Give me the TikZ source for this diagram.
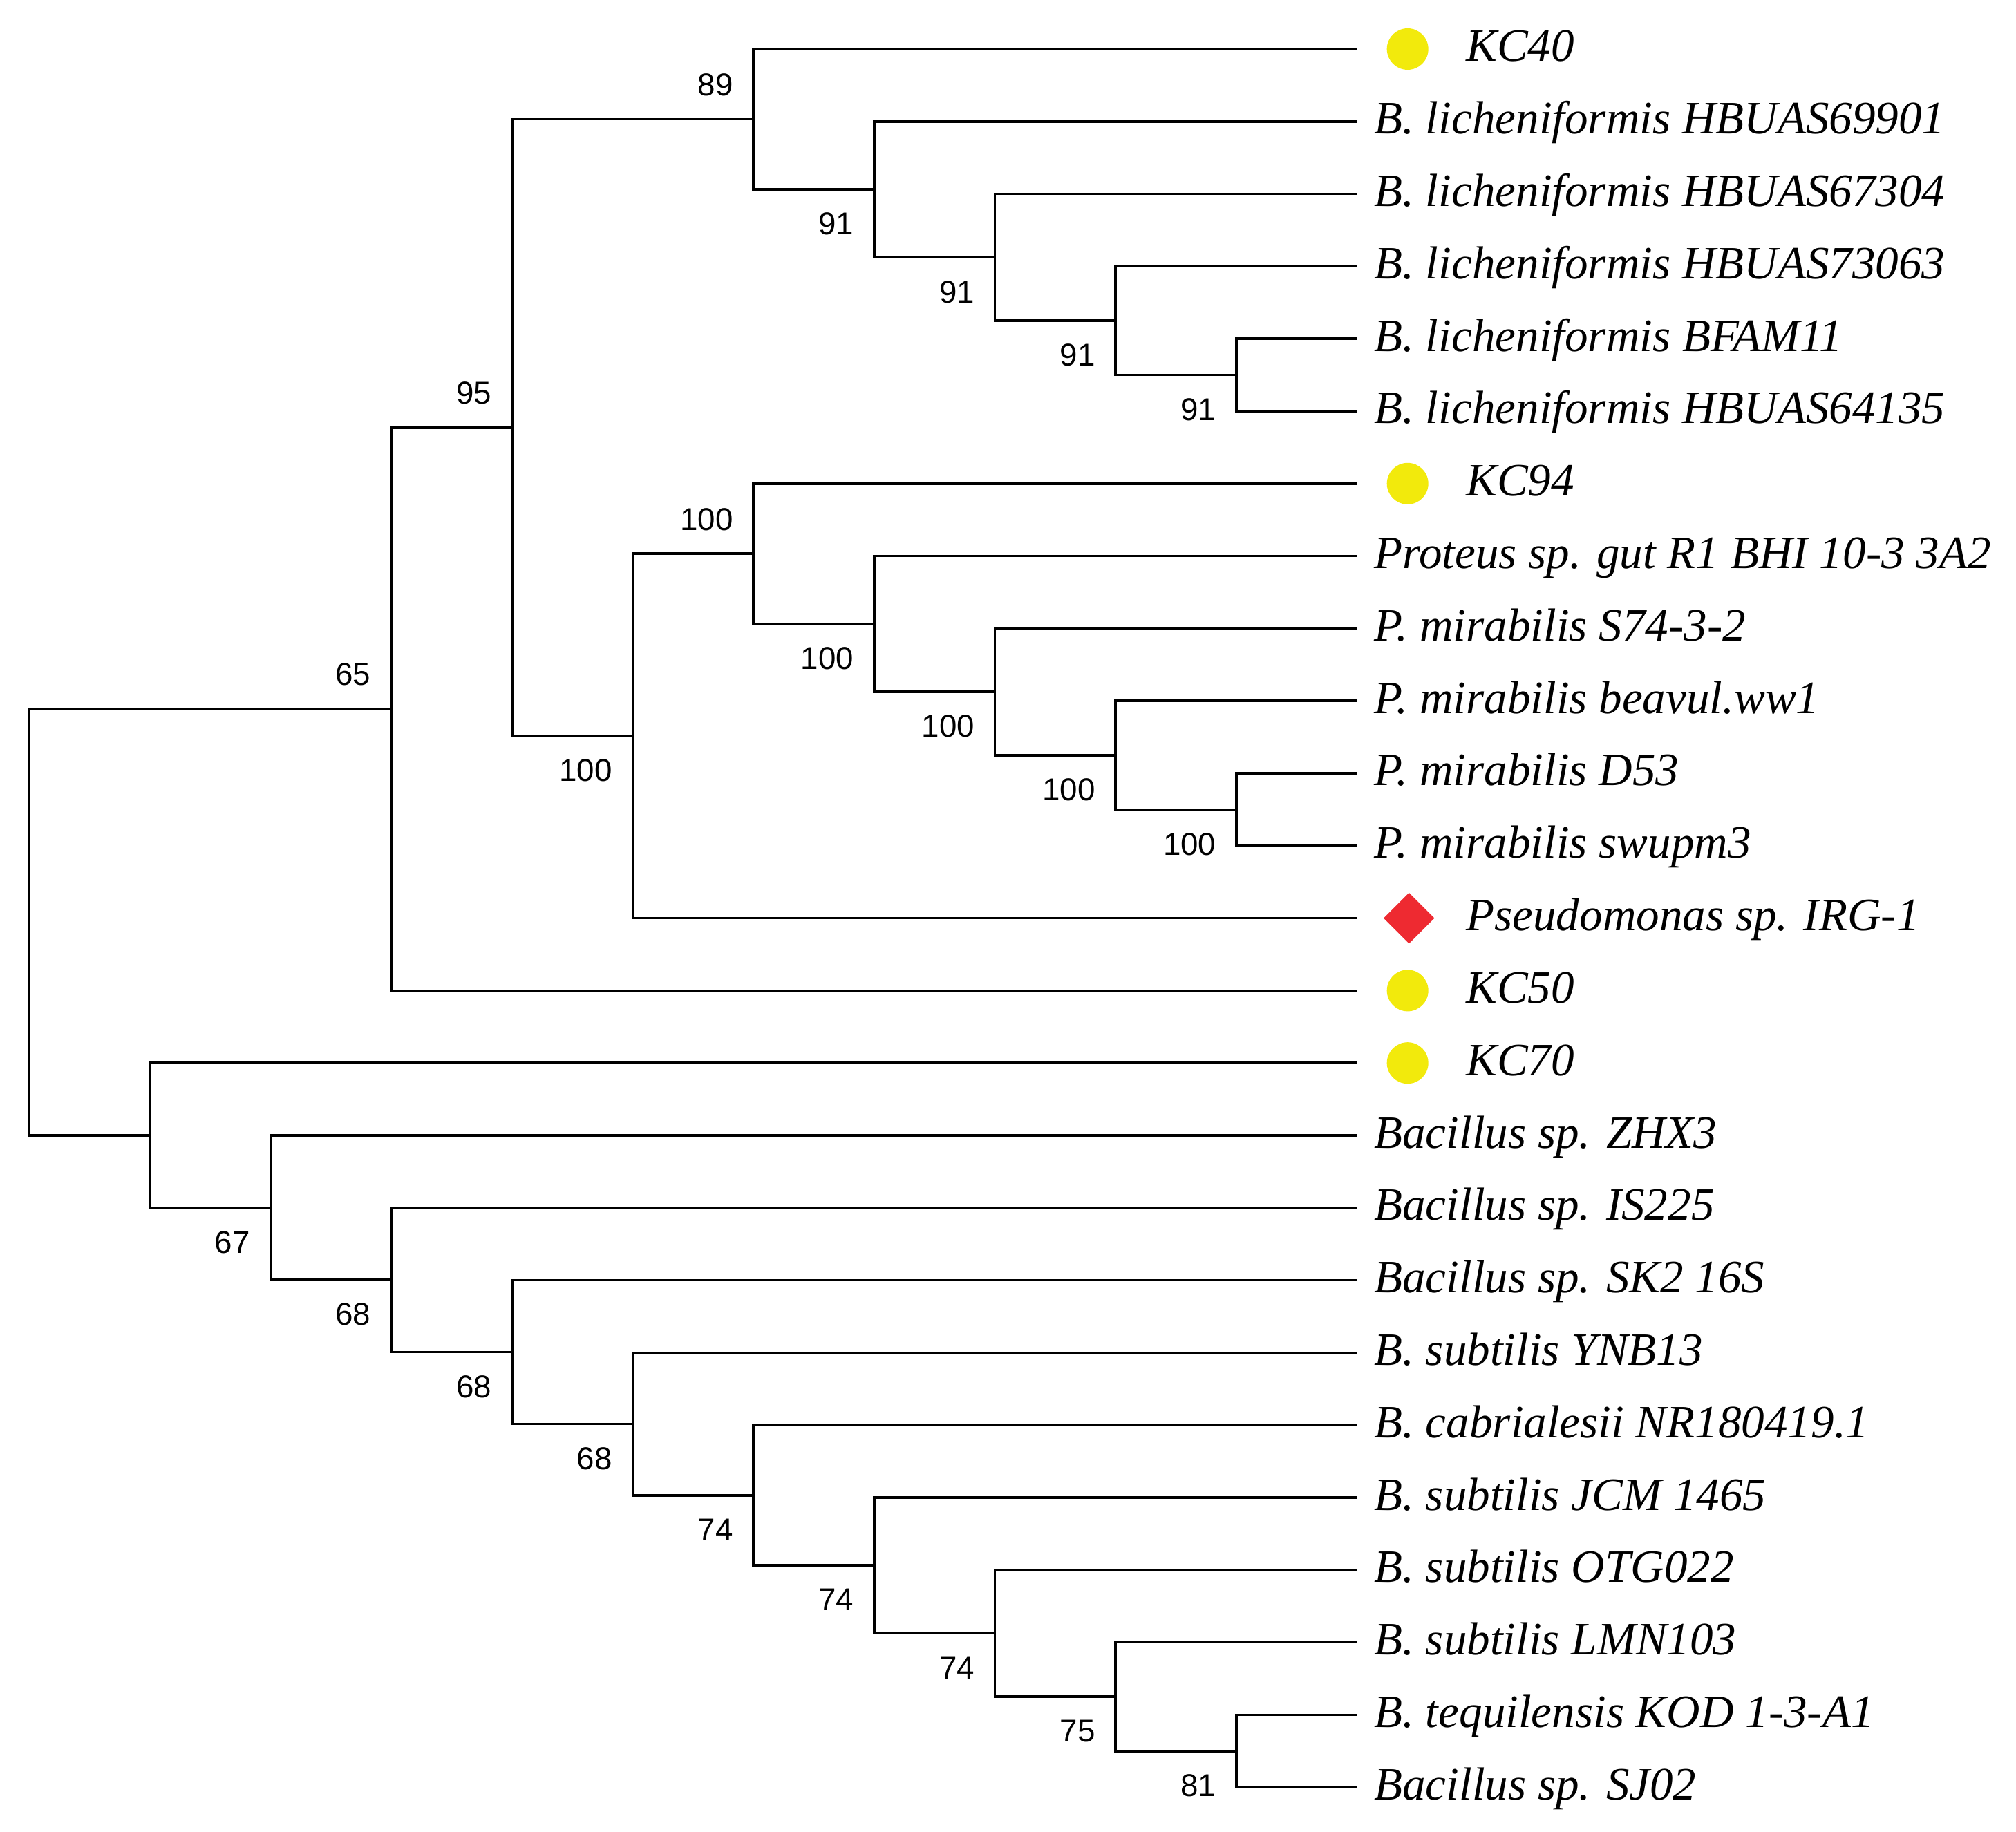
\documentclass[tikz,border=0pt]{standalone}
\usepackage{fontspec}
\usetikzlibrary{shapes.geometric}
\newfontfamily\taxonserif{Liberation Serif}
\newfontfamily\bootsans{Liberation Sans}
\definecolor{kcyellow}{RGB}{242,234,12}
\definecolor{irgred}{RGB}{238,42,49}
\tikzset{
  branch/.style={line width=1.05pt},
  taxon/.style={anchor=base west, inner sep=0pt, xshift=0.24cm, yshift=-0.18cm,
    font=\taxonserif\itshape\fontsize{19.1pt}{23pt}\selectfont},
  marked/.style={taxon, xshift=1.33cm},
  boot/.style={anchor=east, inner sep=0pt, xshift=-0.29cm,
    font=\bootsans\fontsize{13pt}{15pt}\selectfont},
  bootup/.style={boot, yshift=0.5cm},
  bootdown/.style={boot, yshift=-0.5cm},
  isolate/.style={circle, fill=kcyellow, minimum size=0.60cm, inner sep=0pt, xshift=0.73cm},
  query/.style={diamond, fill=irgred, minimum size=0.74cm, inner sep=0pt, xshift=0.75cm},
}
\begin{document}
\begin{tikzpicture}[x=1.747cm, y=-1.048cm]
  \useasboundingbox (-0.42cm,0.71cm) rectangle (28.75cm,-25.80cm);

  % leaf tips
  \coordinate (kc40) at (11,0);
  \coordinate (hb69901) at (11,1);
  \coordinate (hb67304) at (11,2);
  \coordinate (hb73063) at (11,3);
  \coordinate (bfam11) at (11,4);
  \coordinate (hb64135) at (11,5);
  \coordinate (kc94) at (11,6);
  \coordinate (proteus) at (11,7);
  \coordinate (s74) at (11,8);
  \coordinate (beavul) at (11,9);
  \coordinate (d53) at (11,10);
  \coordinate (swupm3) at (11,11);
  \coordinate (irg1) at (11,12);
  \coordinate (kc50) at (11,13);
  \coordinate (kc70) at (11,14);
  \coordinate (zhx3) at (11,15);
  \coordinate (is225) at (11,16);
  \coordinate (sk2) at (11,17);
  \coordinate (ynb13) at (11,18);
  \coordinate (cabri) at (11,19);
  \coordinate (jcm1465) at (11,20);
  \coordinate (otg022) at (11,21);
  \coordinate (lmn103) at (11,22);
  \coordinate (kod) at (11,23);
  \coordinate (sj02) at (11,24);

  % internal nodes
  \coordinate (nI) at (10,4.5);
  \coordinate (nH) at (9,3.75);
  \coordinate (nG) at (8,2.875);
  \coordinate (nF) at (7,1.9375);
  \coordinate (nD) at (6,0.96875);
  \coordinate (nN) at (10,10.5);
  \coordinate (nM) at (9,9.75);
  \coordinate (nL) at (8,8.875);
  \coordinate (nK) at (7,7.9375);
  \coordinate (nJ) at (6,6.96875);
  \coordinate (nE) at (5,9.484375);
  \coordinate (nC) at (4,5.2265625);
  \coordinate (nA) at (3,9.11328125);
  \coordinate (nW) at (10,23.5);
  \coordinate (nV) at (9,22.75);
  \coordinate (nU) at (8,21.875);
  \coordinate (nT) at (7,20.9375);
  \coordinate (nS) at (6,19.96875);
  \coordinate (nR) at (5,18.984375);
  \coordinate (nQ) at (4,17.9921875);
  \coordinate (nP) at (3,16.99609375);
  \coordinate (nO) at (2,15.998046875);
  \coordinate (nB) at (1,14.9990234375);
  \coordinate (root) at (0,12.05615234);

  % branches
  \draw[branch] (root) |- (nA) (root) |- (nB);
  \draw[branch] (nA) |- (nC) (nA) |- (kc50);
  \draw[branch] (nC) |- (nD) (nC) |- (nE);
  \draw[branch] (nD) |- (kc40) (nD) |- (nF);
  \draw[branch] (nF) |- (hb69901) (nF) |- (nG);
  \draw[branch] (nG) |- (hb67304) (nG) |- (nH);
  \draw[branch] (nH) |- (hb73063) (nH) |- (nI);
  \draw[branch] (nI) |- (bfam11) (nI) |- (hb64135);
  \draw[branch] (nE) |- (nJ) (nE) |- (irg1);
  \draw[branch] (nJ) |- (kc94) (nJ) |- (nK);
  \draw[branch] (nK) |- (proteus) (nK) |- (nL);
  \draw[branch] (nL) |- (s74) (nL) |- (nM);
  \draw[branch] (nM) |- (beavul) (nM) |- (nN);
  \draw[branch] (nN) |- (d53) (nN) |- (swupm3);
  \draw[branch] (nB) |- (kc70) (nB) |- (nO);
  \draw[branch] (nO) |- (zhx3) (nO) |- (nP);
  \draw[branch] (nP) |- (is225) (nP) |- (nQ);
  \draw[branch] (nQ) |- (sk2) (nQ) |- (nR);
  \draw[branch] (nR) |- (ynb13) (nR) |- (nS);
  \draw[branch] (nS) |- (cabri) (nS) |- (nT);
  \draw[branch] (nT) |- (jcm1465) (nT) |- (nU);
  \draw[branch] (nU) |- (otg022) (nU) |- (nV);
  \draw[branch] (nV) |- (lmn103) (nV) |- (nW);
  \draw[branch] (nW) |- (kod) (nW) |- (sj02);

  % bootstrap values
  \node[bootup] (bA) at (nA) {65};
  \node[bootup] (bC) at (nC) {95};
  \node[bootup] (bD) at (nD) {89};
  \node[bootdown] (bF) at (nF) {91};
  \node[bootdown] (bG) at (nG) {91};
  \node[bootdown] (bH) at (nH) {91};
  \node[bootdown] (bI) at (nI) {91};
  \node[bootdown] (bE) at (nE) {100};
  \node[bootup] (bJ) at (nJ) {100};
  \node[bootdown] (bK) at (nK) {100};
  \node[bootdown] (bL) at (nL) {100};
  \node[bootdown] (bM) at (nM) {100};
  \node[bootdown] (bN) at (nN) {100};
  \node[bootdown] (bO) at (nO) {67};
  \node[bootdown] (bP) at (nP) {68};
  \node[bootdown] (bQ) at (nQ) {68};
  \node[bootdown] (bR) at (nR) {68};
  \node[bootdown] (bS) at (nS) {74};
  \node[bootdown] (bT) at (nT) {74};
  \node[bootdown] (bU) at (nU) {74};
  \node[bootdown] (bV) at (nV) {75};
  \node[bootdown] (bW) at (nW) {81};

  % markers
  \node[isolate] (kc40-m) at (kc40) {};
  \node[isolate] (kc94-m) at (kc94) {};
  \node[query] (irg1-m) at (irg1) {};
  \node[isolate] (kc50-m) at (kc50) {};
  \node[isolate] (kc70-m) at (kc70) {};

  % taxa
  \node[marked] (kc40-l) at (kc40) {KC40};
  \node[taxon] (hb69901-l) at (hb69901) {B. licheniformis HBUAS69901};
  \node[taxon] (hb67304-l) at (hb67304) {B. licheniformis HBUAS67304};
  \node[taxon] (hb73063-l) at (hb73063) {B. licheniformis HBUAS73063};
  \node[taxon] (bfam11-l) at (bfam11) {B. licheniformis BFAM11};
  \node[taxon] (hb64135-l) at (hb64135) {B. licheniformis HBUAS64135};
  \node[marked] (kc94-l) at (kc94) {KC94};
  \node[taxon] (proteus-l) at (proteus) {Proteus sp. gut R1 BHI 10-3 3A2};
  \node[taxon] (s74-l) at (s74) {P. mirabilis S74-3-2};
  \node[taxon] (beavul-l) at (beavul) {P. mirabilis beavul.ww1};
  \node[taxon] (d53-l) at (d53) {P. mirabilis D53};
  \node[taxon] (swupm3-l) at (swupm3) {P. mirabilis swupm3};
  \node[marked] (irg1-l) at (irg1) {Pseudomonas sp. IRG-1};
  \node[marked] (kc50-l) at (kc50) {KC50};
  \node[marked] (kc70-l) at (kc70) {KC70};
  \node[taxon] (zhx3-l) at (zhx3) {Bacillus sp. ZHX3};
  \node[taxon] (is225-l) at (is225) {Bacillus sp. IS225};
  \node[taxon] (sk2-l) at (sk2) {Bacillus sp. SK2 16S};
  \node[taxon] (ynb13-l) at (ynb13) {B. subtilis YNB13};
  \node[taxon] (cabri-l) at (cabri) {B. cabrialesii NR180419.1};
  \node[taxon] (jcm1465-l) at (jcm1465) {B. subtilis JCM 1465};
  \node[taxon] (otg022-l) at (otg022) {B. subtilis OTG022};
  \node[taxon] (lmn103-l) at (lmn103) {B. subtilis LMN103};
  \node[taxon] (kod-l) at (kod) {B. tequilensis KOD 1-3-A1};
  \node[taxon] (sj02-l) at (sj02) {Bacillus sp. SJ02};
\end{tikzpicture}
\end{document}
